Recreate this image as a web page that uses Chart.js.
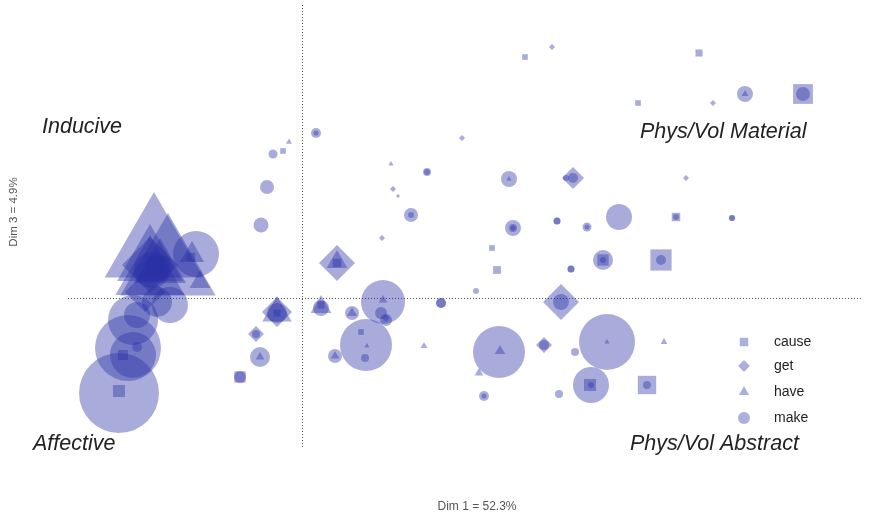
<!DOCTYPE html>
<html>
<head>
<meta charset="utf-8">
<title>Correspondence map</title>
<script src="https://cdn.jsdelivr.net/npm/chart.js@4/dist/chart.umd.min.js"></script>
<style>
  html, body { margin: 0; padding: 0; background: #fff; }
  canvas { display: block; }
</style>
</head>
<body>
<canvas id="map" width="879" height="518"></canvas>
<script>
// verb series: [dim1, dim3, radius]
const cause = [
  [2.23, 2.41, 4], [3.97, 2.45, 5], [3.36, 1.95, 4], [5.01, 2.04, 14],
  [-0.19, 1.47, 4], [3.74, 0.81, 6], [1.90, 0.50, 4], [1.95, 0.28, 5.5],
  [3.01, 0.38, 8], [3.59, 0.38, 15], [0.35, 0.35, 6], [0.19, -0.07, 5],
  [-0.25, -0.15, 5], [0.59, -0.34, 4], [2.88, -0.87, 8.5], [3.45, -0.87, 13],
  [-0.62, -0.79, 8], [-1.83, -0.93, 8.5], [-1.79, -0.57, 7], [-1.47, 0.33, 10],
  [-1.11, 0.41, 6]
];
const get = [
  [2.50, 2.51, 3], [4.11, 1.95, 3], [1.60, 1.60, 3], [2.71, 1.20, 11],
  [3.84, 1.20, 3], [0.91, 1.09, 3], [0.96, 1.02, 2], [2.11, 0.70, 3],
  [0.80, 0.60, 3], [0.35, 0.35, 18], [2.59, -0.04, 18], [2.42, -0.47, 8],
  [-0.25, -0.14, 15], [-0.46, -0.36, 8], [0.84, -0.20, 4],
  [-1.52, 0.33, 28], [-1.57, 0.06, 20]
];
const have = [
  [-0.13, 1.56, 3.5], [0.89, 1.34, 3], [2.07, 1.19, 3], [4.43, 2.04, 4],
  [0.35, 0.36, 12], [-0.25, -0.15, 17], [0.19, -0.09, 12], [0.50, -0.15, 6],
  [0.81, -0.02, 5], [0.65, -0.48, 3], [0.33, -0.58, 5], [-0.42, -0.59, 5],
  [1.22, -0.48, 4], [1.98, -0.53, 6], [3.05, -0.44, 3], [3.62, -0.44, 4],
  [1.77, -0.75, 5],
  [-1.48, 0.49, 57], [-1.34, 0.30, 55], [-1.52, 0.36, 38], [-1.42, 0.30, 30],
  [-1.10, 0.43, 14], [-1.52, 0.23, 40], [-1.02, 0.16, 12]
];
const make = [
  [0.14, 1.65, 5], [0.14, 1.65, 2.5], [-0.29, 1.44, 4.5], [-0.35, 1.11, 7],
  [-0.41, 0.73, 7.5], [1.25, 1.26, 4], [1.25, 1.26, 3], [2.07, 1.19, 8],
  [2.64, 1.20, 3], [2.71, 1.20, 5], [4.43, 2.04, 8], [5.01, 2.04, 7],
  [1.09, 0.83, 7], [1.09, 0.83, 3], [2.11, 0.70, 8], [2.11, 0.70, 4],
  [2.55, 0.77, 3.5], [2.55, 0.77, 3.5], [2.85, 0.71, 4.5], [2.85, 0.71, 2.5],
  [3.17, 0.81, 13], [3.74, 0.81, 3], [4.30, 0.80, 3], [4.30, 0.80, 3],
  [2.69, 0.29, 3.5], [2.69, 0.29, 3.5], [3.01, 0.38, 10], [3.01, 0.38, 3],
  [3.59, 0.38, 5], [1.39, -0.05, 5], [1.39, -0.05, 5], [1.74, 0.07, 3],
  [2.59, -0.04, 8], [0.19, -0.10, 8], [0.50, -0.15, 7], [0.81, -0.04, 22],
  [0.79, -0.15, 6], [0.84, -0.22, 6], [0.64, -0.47, 26], [0.63, -0.60, 4],
  [0.33, -0.58, 7], [-0.25, -0.15, 10], [-0.46, -0.36, 4], [-0.42, -0.59, 10],
  [-0.62, -0.79, 6], [1.97, -0.54, 26], [2.42, -0.47, 5], [2.73, -0.54, 4],
  [3.05, -0.44, 28], [2.89, -0.87, 18], [2.89, -0.87, 3], [3.45, -0.87, 4],
  [1.82, -0.98, 5], [1.82, -0.98, 2.5], [2.57, -0.96, 4],
  [-1.06, 0.44, 23], [-1.50, 0.28, 18], [-1.44, 0.30, 14], [-1.32, -0.07, 18],
  [-1.45, -0.04, 15], [-1.65, -0.17, 13], [-1.69, -0.22, 25], [-1.74, -0.50, 33],
  [-1.69, -0.57, 23], [-1.65, -0.49, 5], [-1.83, -0.95, 40]
];

const seriesNames = ["cause", "get", "have", "make"];
const seriesStyles = ["rect", "rectRot", "triangle", "circle"];
const seriesData = [cause, get, have, make];

const quadrantLabels = [
  { text: "Inducive",          x: -2.60, y: 1.65 },
  { text: "Phys/Vol Material", x: 3.38,  y: 1.60 },
  { text: "Affective",         x: -2.69, y: -1.52 },
  { text: "Phys/Vol Abstract", x: 3.28,  y: -1.52 }
];
const xTitle = "Dim 1 = 52.3%";
const yTitle = "Dim 3 = 4.9%";

const FILL = "rgba(40,48,165,0.40)";
const LEGEND_FILL = "rgba(40,48,165,0.38)";

const overlay = {
  id: "mapOverlay",
  beforeDatasetsDraw(chart) {
    const { ctx, scales: { x, y } } = chart;
    const x0 = x.getPixelForValue(0), y0 = y.getPixelForValue(0);
    ctx.save();
    ctx.strokeStyle = "#555";
    ctx.lineWidth = 1;
    ctx.setLineDash([1, 2]);
    ctx.beginPath();
    ctx.moveTo(Math.round(x0) + 0.5, y.getPixelForValue(2.93));
    ctx.lineTo(Math.round(x0) + 0.5, y.getPixelForValue(-1.49));
    ctx.moveTo(x.getPixelForValue(-2.34), Math.round(y0) + 0.5);
    ctx.lineTo(x.getPixelForValue(5.6), Math.round(y0) + 0.5);
    ctx.stroke();
    ctx.restore();
  },
  afterDraw(chart) {
    const { ctx, scales: { x, y } } = chart;
    ctx.save();
    // quadrant names
    ctx.fillStyle = "#222";
    ctx.font = "italic 21.5px 'Liberation Sans', Arial, sans-serif";
    ctx.textAlign = "left";
    ctx.textBaseline = "alphabetic";
    quadrantLabels.forEach(q => {
      ctx.fillText(q.text, x.getPixelForValue(q.x), y.getPixelForValue(q.y));
    });

    // axis titles
    ctx.fillStyle = "#555";
    ctx.font = "12px 'Liberation Sans', Arial, sans-serif";
    ctx.textAlign = "center";
    ctx.textBaseline = "middle";
    ctx.fillText(xTitle, 477, 507);
    ctx.font = "11.5px 'Liberation Sans', Arial, sans-serif";
    ctx.translate(14, 212);
    ctx.rotate(-Math.PI / 2);
    ctx.fillText(yTitle, 0, 0);
    ctx.setTransform(1, 0, 0, 1, 0, 0);

    // legend
    ctx.font = "14px 'Liberation Sans', Arial, sans-serif";
    ctx.textAlign = "left";
    const rows = [342, 366, 392, 418];
    seriesNames.forEach((name, i) => {
      ctx.fillStyle = LEGEND_FILL;
      Chart.helpers.drawPoint(ctx, {
        pointStyle: seriesStyles[i], radius: 6, rotation: 0, borderWidth: 0
      }, 744, rows[i]);
      ctx.fillStyle = "#222";
      ctx.fillText(name, 774, rows[i]);
    });
    ctx.restore();
  }
};

new Chart(document.getElementById("map"), {
  type: "bubble",
  data: {
    datasets: seriesNames.map((name, i) => ({
      label: name,
      data: seriesData[i].map(([px, py, r]) => ({ x: px, y: py, r })),
      pointStyle: seriesStyles[i],
      backgroundColor: FILL,
      borderWidth: 0,
      borderColor: "rgba(0,0,0,0)",
      clip: false
    }))
  },
  options: {
    responsive: false,
    animation: false,
    devicePixelRatio: 1,
    // plot area 2..862 x 18..498, no extra room reserved for bubbles
    layout: { autoPadding: false, padding: { left: 2, right: 17, top: 18, bottom: 20 } },
    scales: {
      x: { type: "linear", min: -3.0, max: 5.6, display: false },
      y: { type: "linear", min: -2.0, max: 2.8, display: false }
    },
    plugins: {
      legend: { display: false },
      tooltip: { enabled: false }
    }
  },
  plugins: [overlay]
});
</script>
</body>
</html>
